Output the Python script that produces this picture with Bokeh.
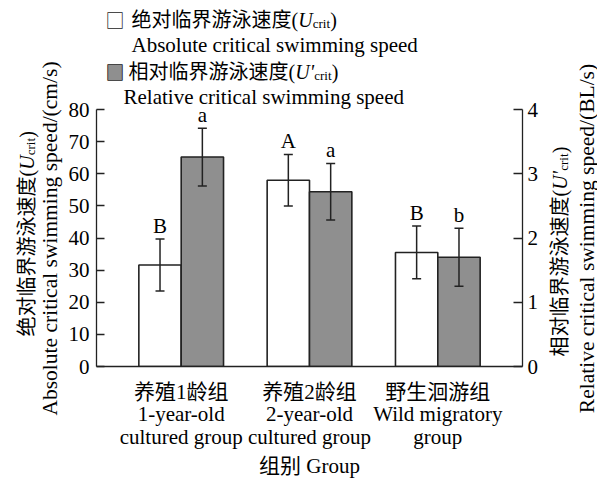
import math
from bokeh.plotting import figure
from bokeh.models import ColumnDataSource, Range1d, LinearAxis, Label, FixedTicker
from bokeh.core.properties import value
from bokeh.embed import file_html
from bokeh.resources import INLINE

# ---------------- data ----------------
groups_cn = ["养殖1龄组", "养殖2龄组", "野生洄游组"]
groups_en = ["1-year-old\ncultured group", "2-year-old\ncultured group", "Wild migratory\ngroup"]
group_pos = [1, 2, 3]
abs_speed = [31.6, 58.0, 35.5]          # cm/s
abs_err = [8.1, 8.0, 8.2]
rel_speed = [3.26, 2.72, 1.70]          # BL/s
rel_err = [0.45, 0.44, 0.45]
abs_letters = ["B", "A", "B"]
rel_letters = ["a", "a", "b"]
left_ticks = [0, 10, 20, 30, 40, 50, 60, 70, 80]
right_ticks = [0, 1, 2, 3, 4]

FONT = "Liberation Serif, Noto Sans CJK SC"
FS = "21px"
DARK = "#222222"
GRAY = "#8f8f8f"
BW = 0.33
FW, FH = 426, 257
X0, X1, Y0, Y1 = 0.34, 3.66, 0, 80

p = figure(frame_width=FW, frame_height=FH, output_backend="svg", toolbar_location=None,
           x_range=Range1d(X0, X1), y_range=Range1d(Y0, Y1),
           min_border_left=96, min_border_right=75, min_border_top=109,
           min_border_bottom=96, y_axis_location="left")
p.outline_line_color = None
p.grid.visible = False
p.extra_y_ranges = {"rel": Range1d(0, 4)}

src_a = ColumnDataSource(dict(
    x=[g - BW / 2 for g in group_pos], top=abs_speed,
    lo=[m - e for m, e in zip(abs_speed, abs_err)],
    hi=[m + e for m, e in zip(abs_speed, abs_err)], lab=abs_letters))
src_r = ColumnDataSource(dict(
    x=[g + BW / 2 for g in group_pos], top=rel_speed,
    lo=[m - e for m, e in zip(rel_speed, rel_err)],
    hi=[m + e for m, e in zip(rel_speed, rel_err)], lab=rel_letters))

p.vbar(x="x", top="top", width=BW, source=src_a, fill_color="white",
       line_color=DARK, line_width=1.6)
p.vbar(x="x", top="top", width=BW, source=src_r, fill_color=GRAY,
       line_color=DARK, line_width=1.6, y_range_name="rel")

for src, rn in ((src_a, "default"), (src_r, "rel")):
    p.segment(x0="x", x1="x", y0="lo", y1="hi", source=src, line_color=DARK,
              line_width=1.5, y_range_name=rn)
    for col in ("lo", "hi"):
        p.scatter(x="x", y=col, source=src, marker="dash", size=9, line_color=DARK,
                  line_width=1.5, y_range_name=rn)
    p.text(x="x", y="hi", text="lab", source=src, y_range_name=rn,
           text_font=value("Liberation Serif"), text_font_size=FS,
           text_align="center", text_baseline="bottom", y_offset=-1,
           text_color="black")

# ---------------- axes ----------------
def style_y(a, tick_in, standoff):
    a.major_tick_in = tick_in
    a.major_tick_out = 0
    a.minor_tick_line_color = None
    a.major_label_standoff = standoff
    a.major_label_text_font = FONT
    a.major_label_text_font_size = FS
    a.major_label_text_color = "black"
    a.axis_line_color = DARK
    a.axis_line_width = 1.3
    a.major_tick_line_color = DARK
    a.major_tick_line_width = 1.3


ax = p.yaxis[0]
ax.ticker = FixedTicker(ticks=left_ticks)
style_y(ax, 8, 7)

rax = LinearAxis(y_range_name="rel", ticker=FixedTicker(ticks=right_ticks))
style_y(rax, 9, 5)
p.add_layout(rax, "right")

xa = p.xaxis[0]
xa.ticker = FixedTicker(ticks=group_pos)
xa.major_label_overrides = {g: c + "\n" + e for g, c, e in zip(group_pos, groups_cn, groups_en)}
xa.major_tick_line_color = None
xa.minor_tick_line_color = None
xa.major_label_standoff = 7
xa.major_label_text_font = FONT
xa.major_label_text_font_size = FS
xa.major_label_text_line_height = 0.95
xa.major_label_text_color = "black"
xa.axis_line_color = DARK
xa.axis_line_width = 1.3
xa.axis_label = "组别 Group"
xa.axis_label_text_font = FONT
xa.axis_label_text_font_size = FS
xa.axis_label_text_font_style = "normal"
xa.axis_label_text_color = "black"
xa.axis_label_standoff = 2

# ---------------- text around the frame ----------------
# Labels in the centre panel are clipped to the frame, so they are attached to the
# bottom side panel (which only grows below the visible window) and positioned
# in data units converted from pixel offsets relative to the frame.
SIDE = "below"


def dx(px):
    return X0 + px * (X1 - X0) / FW


def dy(up):
    return Y0 + up * (Y1 - Y0) / FH


def lab(px, up, text, size=20, style="normal", angle=0.0, align="left",
        color="black", font=FONT):
    p.add_layout(Label(x=dx(px), y=dy(up), text=text, angle=angle,
                       text_align=align, text_baseline="middle",
                       text_font=font, text_font_size=f"{size}px",
                       text_font_style=style, text_color=color), SIDE)


def run(x, y, pieces, angle=0.0):
    ux, uy = math.cos(angle), math.sin(angle)
    nx, ny = math.sin(angle), -math.cos(angle)
    pos = 0.0
    for text, size, style, shift, adv in pieces:
        lab(x + ux * pos + nx * shift, y + uy * pos + ny * shift, text, size, style, angle)
        pos += adv


def ucrit(prefix, prime=False):
    u = "U'" if prime else "U"
    return [(prefix, 20, "normal", 0, 8 * 20 + 6.7),
            (u, 20, "italic", 0, 19 if prime else 14.5),
            ("crit", 13, "normal", 4, 17.5),
            (")", 20, "normal", 0, 7)]


# legend (above the frame)
lab(18.5, 347, "□", size=19, align="center", color=DARK, font="Noto Sans CJK SC")
lab(18.5, 295, "■", size=19, align="center", color=GRAY, font="Noto Sans CJK SC")
lab(18.5, 295, "□", size=19, align="center", color=DARK, font="Noto Sans CJK SC")
run(35, 347, ucrit("绝对临界游泳速度("))
lab(35, 322, "Absolute critical swimming speed", size=21)
run(32, 295, ucrit("相对临界游泳速度(", prime=True))
lab(27, 270, "Relative critical swimming speed", size=21)

# left axis title (two lines)
run(-70, 30, ucrit("绝对临界游泳速度("), angle=math.pi / 2)
lab(-47, 128, "Absolute critical swimming speed/(cm/s)", size=21.5, angle=math.pi / 2,
    align="center")
# right axis title (two lines)
run(463, 10, ucrit("相对临界游泳速度(", prime=True), angle=math.pi / 2)
lab(490, 128, "Relative critical swimming speed/(BL/s)", size=21.5, angle=math.pi / 2,
    align="center")

open("out.html", "w").write(file_html(p, INLINE))
